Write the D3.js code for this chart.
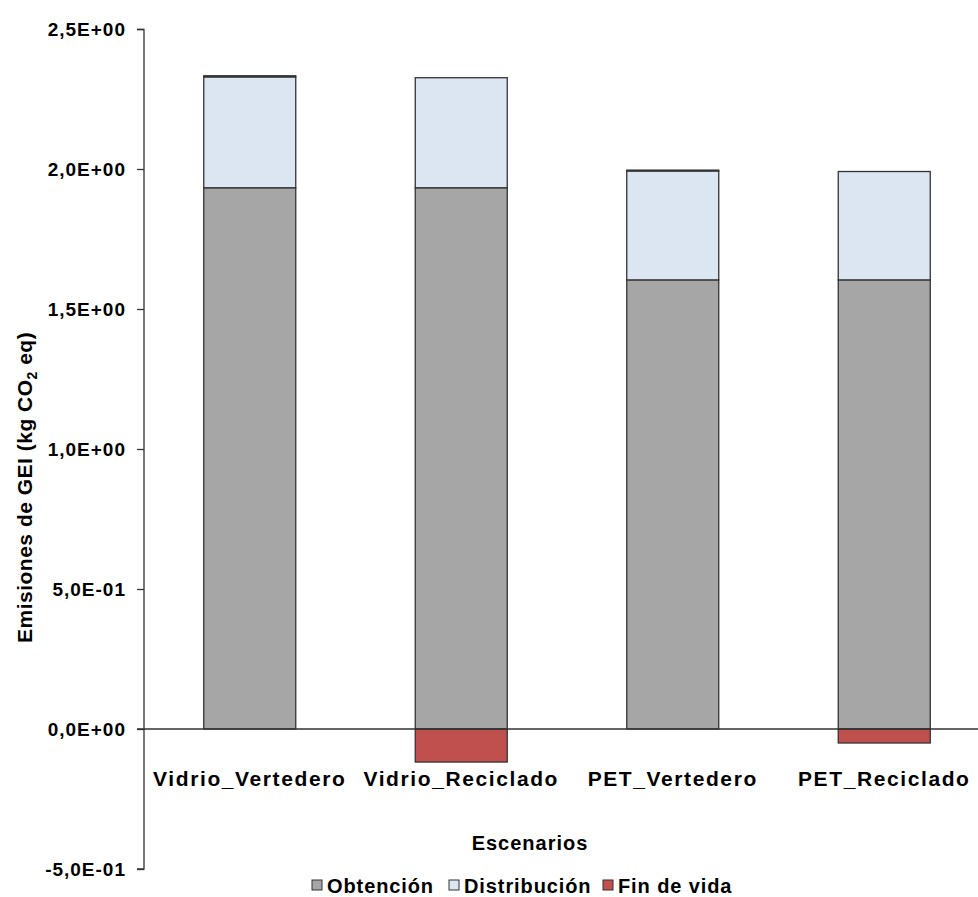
<!DOCTYPE html>
<html><head><meta charset="utf-8">
<script src="https://cdn.jsdelivr.net/npm/d3@7"></script>
<style>body{margin:0;background:#fff;} text{font-family:"Liberation Sans",Arial,sans-serif;font-weight:bold;fill:#000;}</style>
</head><body>
<svg id="c" width="978" height="897"></svg>
<script>
const categories = ["Vidrio_Vertedero","Vidrio_Reciclado","PET_Vertedero","PET_Reciclado"];
const seriesNames = ["Obtención","Distribución","Fin de vida"];
const obtencion = [1.933, 1.933, 1.604, 1.604];
const distribucion = [0.396, 0.393, 0.389, 0.387];
const finDeVida = [0.004, -0.118, 0.003, -0.05];
const yTicks = [-0.5, 0, 0.5, 1.0, 1.5, 2.0, 2.5];
const colors = ["#a6a6a6","#dce6f2","#c0504d"];

const svg = d3.select("#c");
const y = d3.scaleLinear().domain([-0.5, 2.5]).range([869, 29]);
const x = d3.scaleBand().domain(categories).range([144, 990]).paddingInner(0.565).paddingOuter(0.2825);

const rows = categories.map((c,i)=>({cat:c, "Obtención":obtencion[i], "Distribución":distribucion[i], "Fin de vida":finDeVida[i]}));
const stacked = d3.stack().keys(seriesNames).offset(d3.stackOffsetDiverging)(rows);

stacked.forEach((s,si)=>{
  svg.append("g").selectAll("rect").data(s).join("rect")
    .attr("x", d=>x(d.data.cat))
    .attr("width", x.bandwidth())
    .attr("y", d=>y(Math.max(d[0],d[1])))
    .attr("height", d=>Math.abs(y(d[0])-y(d[1])))
    .attr("fill", colors[si])
    .attr("stroke", "#333")
    .attr("stroke-width", 1.3);
});

// zero line
svg.append("line").attr("x1",137).attr("x2",978).attr("y1",y(0)).attr("y2",y(0))
  .attr("stroke","#333").attr("stroke-width",1.3);

// y axis
const fmt = d=>{ const s = d3.format(".1e")(d).replace("−","-"); const [m,e] = s.split("e"); const ex = parseInt(e); return m.replace(".",",")+"E"+(ex<0?"-":"+")+String(Math.abs(ex)).padStart(2,"0"); };
const yAxis = d3.axisLeft(y).tickValues(yTicks).tickSize(7).tickPadding(11).tickFormat(fmt);
const ga = svg.append("g").attr("transform","translate(144,0)").call(yAxis);
ga.select(".domain").attr("stroke","#333").attr("stroke-width",1.3).attr("d","M-7,29.5H0V869H-7");
ga.selectAll(".tick line").attr("stroke","#333").attr("stroke-width",1.3);
ga.selectAll(".tick text").style("font-size","19px").style("letter-spacing","1px").style("font-family","Liberation Sans, Arial, sans-serif").style("font-weight","bold").attr("fill","#000").attr("dy","0.35em");

// category labels
svg.append("g").selectAll("text").data(categories).join("text")
  .attr("x", d=>x(d)+x.bandwidth()/2).attr("y", 786)
  .attr("text-anchor","middle").style("font-size","21px").style("letter-spacing","1.6px").text(d=>d);

// axis titles
svg.append("text").attr("x",530).attr("y",850).attr("text-anchor","middle").style("font-size","20px").style("letter-spacing","1px").text("Escenarios");
const yt = svg.append("text").attr("transform","translate(32,643) rotate(-90)").attr("text-anchor","start").style("font-size","21px").style("letter-spacing","0.5px");
yt.append("tspan").text("Emisiones de GEI (kg CO");
yt.append("tspan").attr("dy",5).style("font-size","14px").text("2");
yt.append("tspan").attr("dy",-5).text(" eq)");

// legend
const legX = [312, 449, 603];
const lg = svg.append("g");
seriesNames.forEach((n,i)=>{
  lg.append("rect").attr("x",legX[i]).attr("y",880).attr("width",10).attr("height",10)
    .attr("fill",colors[i]).attr("stroke","#333").attr("stroke-width",1);
  lg.append("text").attr("x",legX[i]+15).attr("y",893).style("font-size","20px").style("letter-spacing","0.9px").text(n);
});
</script>
</body></html>
